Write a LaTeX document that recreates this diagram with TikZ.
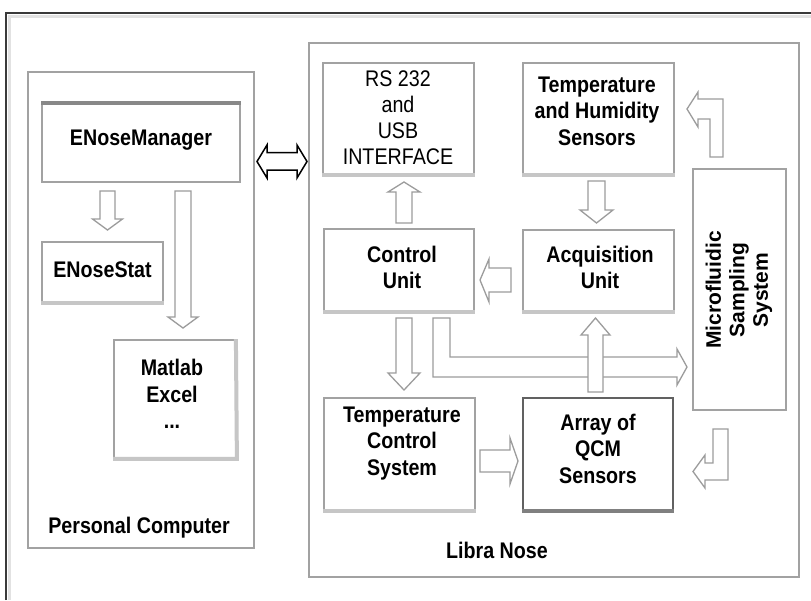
\documentclass[tikz,border=0pt]{standalone}
\usepackage{fontspec}
\setmainfont{Liberation Sans}[FakeStretch=0.87]
\newfontfamily\rotfont{Liberation Sans}
\definecolor{boxgray}{HTML}{A2A2A2}
\definecolor{shadegray}{HTML}{C6C6C6}
\definecolor{arrgray}{HTML}{9C9C9C}
\definecolor{framedark}{HTML}{3A3A3A}
\definecolor{framelight}{HTML}{E2E2E2}
\definecolor{topgray}{HTML}{888888}
\begin{document}
\begin{tikzpicture}[x=1pt,y=-1pt,
  box/.style={draw=boxgray, line width=1.8pt, fill=white, inner sep=0pt},
  lbl/.style={font=\bfseries\fontsize{22.6}{26.5}\selectfont, align=center, inner sep=0pt},
  rlbl/.style={font=\fontsize{22.6}{26}\selectfont, align=center, inner sep=0pt},
  barrow/.style={draw=arrgray, fill=white, line width=1.3pt, line join=miter},
  shadeline/.style={line width=4pt, draw=shadegray}
]
\useasboundingbox (0,0) rectangle (811,600);
\fill[white] (0,0) rectangle (811,600);
% outer frame (top and left edges)
\draw[line width=3pt, framelight] (9,600) -- (9,16.5) -- (811,16.5);
\draw[line width=2.4pt, framedark] (6,600) -- (6,13) -- (811,13);

% ---------- Personal Computer ----------
\node[box, minimum width=226pt, minimum height=476pt] (pc) at (141,310) {};
\node[lbl] (pclbl) at (139,528) {Personal Computer};

\node[box, minimum width=198pt, minimum height=79pt] (mgr) at (141,142.5) {};
\draw[line width=4pt, topgray] ([yshift=-1pt]mgr.north west) -- ([yshift=-1pt]mgr.north east);
\node[lbl] (mgrlbl) at (141,140) {ENoseManager};

\node[box, minimum width=121pt, minimum height=61pt] (stat) at (102.5,272.5) {};
\draw[shadeline] ([yshift=1pt]stat.south west) -- ([yshift=1pt]stat.south east);
\node[lbl] (statlbl) at (102.5,270) {ENoseStat};

\node[box, minimum width=122pt, minimum height=119pt] (mat) at (175,399.5) {};
\draw[shadeline] ([yshift=1pt]mat.south west) -- ([yshift=1pt]mat.south east) -- ([xshift=-1pt]mat.north east);
\node[lbl] (matlbl) at (172,394) {Matlab\\Excel\\...};

% arrows inside PC
\draw[barrow] (100,191) -- (115,191) -- (115,219) -- (122.5,219) -- (107.5,230) -- (92.5,219) -- (100,219) -- cycle;
\draw[barrow] (175,191) -- (191,191) -- (191,317) -- (198,317) -- (183,328) -- (168,317) -- (175,317) -- cycle;

% ---------- double arrow ----------
\draw[draw=black, fill=white, line width=1.5pt, line join=miter]
  (257,161.5) -- (267,145) -- (267,152.5) -- (297,152.5) -- (297,145) -- (307,161.5)
  -- (297,178) -- (297,170) -- (267,170) -- (267,178) -- cycle;

% ---------- Libra Nose ----------
\node[box, minimum width=490pt, minimum height=534pt] (libra) at (554,310) {};
\node[lbl] (libralbl) at (497,550) {Libra Nose};

\node[box, minimum width=151pt, minimum height=112pt] (rs) at (398.5,119) {};
\draw[shadeline] ([yshift=1pt]rs.south west) -- ([yshift=1pt]rs.south east);
\node[rlbl] (rslbl) at (398,118) {RS 232\\and\\USB\\INTERFACE};

\node[box, minimum width=151pt, minimum height=112pt] (th) at (598.5,119) {};
\draw[shadeline] ([yshift=1pt]th.south west) -- ([yshift=1pt]th.south east);
\node[lbl] (thlbl) at (597,111) {Temperature\\and Humidity\\Sensors};

\node[box, minimum width=150pt, minimum height=83pt] (ctrl) at (399,270.5) {};
\draw[shadeline] ([yshift=1pt]ctrl.south west) -- ([yshift=1pt]ctrl.south east);
\node[lbl] (ctrllbl) at (402,267.5) {Control\\Unit};

\node[box, minimum width=151pt, minimum height=82pt] (acq) at (598.5,271) {};
\draw[shadeline] ([yshift=1pt]acq.south west) -- ([yshift=1pt]acq.south east);
\node[lbl] (acqlbl) at (600,267.5) {Acquisition\\Unit};

\node[box, minimum width=93pt, minimum height=241pt] (micro) at (739.5,289.5) {};
\node[lbl, rotate=90, font=\rotfont\bfseries\fontsize{21}{23.5}\selectfont] (microlbl) at (739,290) {Microfluidic\\Sampling\\System};

\node[box, minimum width=151pt, minimum height=113pt] (tcs) at (399.5,454.5) {};
\draw[shadeline] ([yshift=1pt]tcs.south west) -- ([yshift=1pt]tcs.south east);
\node[lbl] (tcslbl) at (402,443.5) {Temperature\\Control\\System};

\node[box, draw=framedark!80, minimum width=150pt, minimum height=113pt] (qcm) at (598,454.5) {};
\draw[line width=3.5pt, draw=gray] ([yshift=1pt]qcm.south west) -- ([yshift=1pt]qcm.south east);
\node[lbl] (qcmlbl) at (598,448.5) {Array of\\QCM\\Sensors};

% ---------- block arrows in Libra Nose ----------
% Control -> RS232
\draw[barrow] (396,223) -- (412,223) -- (412,192) -- (420,192) -- (404,182) -- (388,192) -- (396,192) -- cycle;
% T&H -> Acquisition
\draw[barrow] (588,181) -- (605,181) -- (605,210) -- (613,210) -- (596.5,223) -- (580,210) -- (588,210) -- cycle;
% Acquisition -> Control
\draw[barrow] (511,268) -- (511,292) -- (489,292) -- (489,302) -- (480,280) -- (489,259) -- (489,268) -- cycle;
% Control -> Temperature Control System
\draw[barrow] (396,318) -- (412,318) -- (412,373) -- (420,373) -- (404,390) -- (388,373) -- (396,373) -- cycle;
% Control -> Microfluidic (L shape)
\draw[barrow] (433,318) -- (450,318) -- (450,357) -- (677,357) -- (677,349) -- (687,367) -- (677,385) -- (677,377) -- (433,377) -- cycle;
% Array -> Acquisition
\draw[barrow] (588,392) -- (603,392) -- (603,335) -- (610,335) -- (595.5,318) -- (581,335) -- (588,335) -- cycle;
% Temperature Control -> Array
\draw[barrow] (480,450) -- (510,450) -- (510,438) -- (518,461) -- (510,484) -- (510,472) -- (480,472) -- cycle;
% Microfluidic -> T&H (bent)
\draw[barrow] (710,157) -- (723,157) -- (723,99) -- (698,99) -- (698,92) -- (687,109) -- (698,127) -- (698,119) -- (710,119) -- cycle;
% Microfluidic -> Array (bent)
\draw[barrow] (713,429) -- (728,429) -- (728,480) -- (705,480) -- (705,488) -- (693,471.5) -- (705,455) -- (705,463) -- (713,463) -- cycle;
\end{tikzpicture}
\end{document}
